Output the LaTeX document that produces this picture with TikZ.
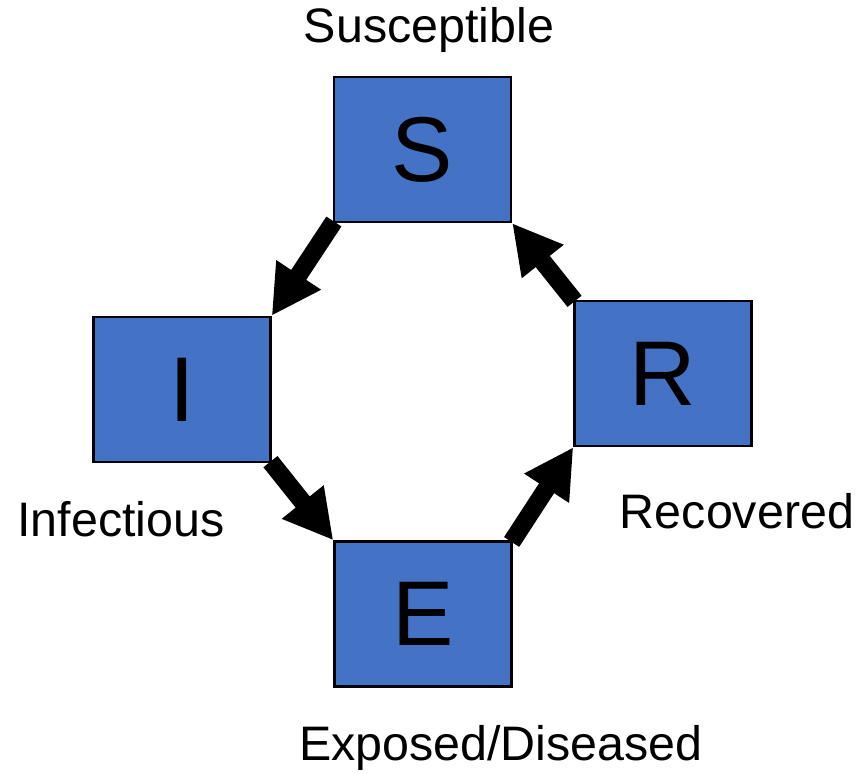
\documentclass[tikz,border=0pt]{standalone}
\usepackage{fontspec}
\setmainfont{Liberation Sans}
\usetikzlibrary{arrows.meta}
\definecolor{boxblue}{HTML}{4472C4}

\begin{document}
\begin{tikzpicture}[x=0.5pt,y=-0.5pt]

		\tikzset{box/.style={draw=black,fill=boxblue,line width=1.2pt,minimum width=88.5pt,minimum height=72.5pt,inner sep=0pt,font=\fontsize{46}{50}\selectfont}}
		\tikzset{arrow/.style={draw=black,line width=9pt,-{Triangle[length=24.5pt,width=25pt]},shorten <=-1pt}}
		\tikzset{lbl/.style={font=\fontsize{24.2}{28}\selectfont}}

		\useasboundingbox (0,0) rectangle (856,774);

		% the four compartments
		\node[box] (S) at (422.5, 149.5) {S};
		\node[box] (I) at (182, 389.5) {I};
		\node[box] (R) at (663, 373.5) {R};
		\node[box] (E) at (423, 614) {E};

		\node[lbl] (Slbl) at (429, 30) {Susceptible};
		\node[lbl] (Ilbl) at (121, 519) {Infectious};
		\node[lbl] (Rlbl) at (737, 511) {Recovered};
		\node[lbl] (Elbl) at (501, 748) {Exposed/Diseased};

		% transitions
		\path[arrow] (S.south west) -- (I.north east);
		\path[arrow] (I.south east) -- (E.north west);
		\path[arrow] (E.north east) -- (R.south west);
		\path[arrow] (R.north west) -- (S.south east);

\end{tikzpicture}
\end{document}
